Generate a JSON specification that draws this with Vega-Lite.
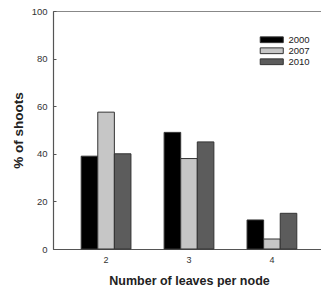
{
  "$schema": "https://vega.github.io/schema/vega-lite/v6.json",
  "width": 272,
  "height": 238,
  "autosize": {"type": "none"},
  "padding": {"left": 53, "top": 11, "right": 0, "bottom": 38},
  "background": "white",
  "config": {
    "view": {"stroke": "#888", "strokeWidth": 1},
    "font": "Liberation Sans"
  },
  "data": {
    "values": [
      {"leaves": "2", "year": "2000", "pct": 39},
      {"leaves": "2", "year": "2007", "pct": 57.5},
      {"leaves": "2", "year": "2010", "pct": 40},
      {"leaves": "3", "year": "2000", "pct": 49},
      {"leaves": "3", "year": "2007", "pct": 38},
      {"leaves": "3", "year": "2010", "pct": 45},
      {"leaves": "4", "year": "2000", "pct": 12.2},
      {"leaves": "4", "year": "2007", "pct": 4.2},
      {"leaves": "4", "year": "2010", "pct": 15}
    ]
  },
  "mark": {"type": "bar", "stroke": "#333", "strokeWidth": 1},
  "encoding": {
    "x": {
      "field": "leaves",
      "type": "nominal",
      "scale": {"paddingInner": 0.4, "paddingOuter": 0.34},
      "axis": {
        "title": "Number of leaves per node",
        "titleFontSize": 12.5,
        "titleFontWeight": "bold",
        "titleColor": "#222",
        "titlePadding": 10,
        "labelAngle": 0,
        "labelFontSize": 9,
        "labelColor": "#333",
        "labelPadding": 6,
        "ticks": false,
        "domainColor": "#555",
        "domainWidth": 1.2
      }
    },
    "xOffset": {"field": "year", "type": "nominal"},
    "y": {
      "field": "pct",
      "type": "quantitative",
      "scale": {"domain": [0, 100]},
      "axis": {
        "title": "% of shoots",
        "titleFontSize": 13.5,
        "titleFontWeight": "bold",
        "titleColor": "#222",
        "titlePadding": 6,
        "values": [0, 20, 40, 60, 80, 100],
        "grid": false,
        "labelFontSize": 9.5,
        "labelColor": "#333",
        "tickSize": -3,
        "tickColor": "#555",
        "labelPadding": 9,
        "domainColor": "#555",
        "domainWidth": 1.2
      }
    },
    "fill": {
      "field": "year",
      "type": "nominal",
      "scale": {"domain": ["2000", "2007", "2010"], "range": ["#000000", "#c6c6c6", "#5c5c5c"]},
      "legend": {
        "title": null,
        "orient": "none",
        "legendX": 214,
        "legendY": 24,
        "symbolType": "M-3,-0.75H3V0.75H-3Z",
        "symbolSize": 59,
        "symbolStrokeColor": "#333",
        "symbolStrokeWidth": 1,
        "labelFontSize": 9.5,
        "labelColor": "#222",
        "rowPadding": 0,
        "labelOffset": 12,
        "symbolOffset": 0
      }
    }
  }
}
